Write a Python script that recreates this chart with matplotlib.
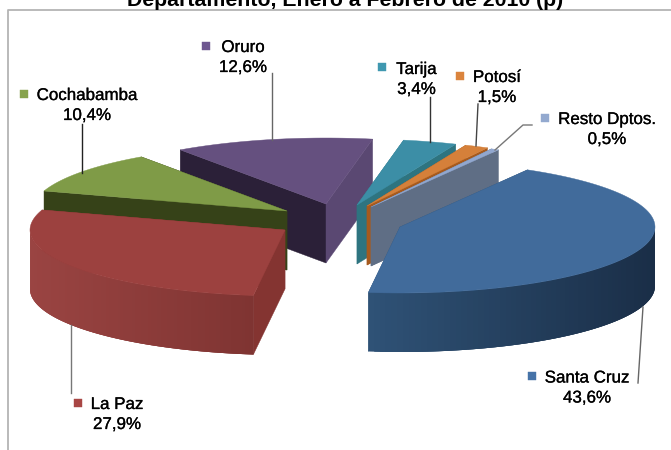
import numpy as np
import matplotlib
matplotlib.use("Agg")
import matplotlib.pyplot as plt
import matplotlib.patheffects as pe
from matplotlib.patches import Polygon
from matplotlib.colors import to_rgb

# ---- data ----
categories = ["Santa Cruz", "La Paz", "Cochabamba", "Oruro", "Tarija", "Potosí", "Resto Dptos."]
values = [43.6, 27.9, 10.4, 12.6, 3.4, 1.5, 0.5]
value_labels = ["43,6%", "27,9%", "10,4%", "12,6%", "3,4%", "1,5%", "0,5%"]
title = "Departamento, Enero a Febrero de 2010 (p)"

# ---- style ----
top_colors = ["#416b9b", "#9c413f", "#7f9b47", "#65507f", "#3c8ea6", "#d5803a", "#91a7cf"]
marker_colors = ["#4673a8", "#a84644", "#87a34d", "#6e5790", "#3f98b0", "#db843d", "#93a9cf"]
first_face = ["#2f5276", "#843431", "#364218", "#2b2038", "#2e7480", "#a65a1e", "#5f6e85"]
last_face = ["#2f5276", "#843431", "#364218", "#5a4872", "#2e7480", "#a65a1e", "#5f6e85"]
wall_left = ["#2f5276", "#9a4442", "#364218", "#2b2038", "#2e7480", "#a65a1e", "#5f6e85"]
wall_right = ["#1a2e47", "#7f3432", "#364218", "#2b2038", "#2e7480", "#a65a1e", "#5f6e85"]
centres = [(400, 227), (285, 230), (287, 211), (326, 204), (357, 205), (367, 206), (371, 207)]
label_xy = [(587, 392.5), (117, 419), (87, 110), (243, 62), (416.5, 84), (497, 92), (607, 134)]
marker_xy = [(532, 376), (78, 403), (24, 94), (206, 46), (382, 67), (460, 76), (545, 118)]
leaders = [[(643, 307), (638, 383)], [(70.5, 325), (70.5, 393)], [(82, 124), (82, 173)],
           [(272, 73), (272, 140)], [(430, 97), (430, 142)], [(478, 104), (476, 146)],
           [(532, 125), (523, 125), (495, 150)]]
leader_colors = ["#666666", "#777777", "#222222", "#666666", "#333333", "#444444", "#777777"]
draw_order = [3, 2, 1, 4, 5, 6, 0]
RX, RY, DEPTH = 255, 66, 59
START_ANGLE = 60.0
FONT = "Liberation Sans"
HEAVY = [pe.withStroke(linewidth=0.2, foreground="black")]

fig = plt.figure(figsize=(6.71, 4.5), dpi=100)
ax = fig.add_axes([0, 0, 1, 1])
ax.set_xlim(0, 671)
ax.set_ylim(450, 0)
ax.axis("off")

# frame
ax.plot([8, 8, 671], [450, 10, 10], color="#b4b4b4", lw=1.3, zorder=1)

fractions = np.array(values) / np.sum(values)
ends = START_ANGLE - np.cumsum(fractions) * 360
starts = np.r_[START_ANGLE, ends[:-1]]
z = 2


def rim(cx, cy, t):
    r = np.deg2rad(t)
    return cx + RX * np.cos(r), cy - RY * np.sin(r)


for i in draw_order:
    cx, cy = centres[i]
    ta, tb = starts[i], ends[i]
    # flat cut faces
    for t, col in ((ta, first_face[i]), (tb, last_face[i])):
        x, y = rim(cx, cy, t)
        ax.add_patch(Polygon([(cx, cy), (x, y), (x, y + DEPTH), (cx, cy + DEPTH)],
                             fc=col, ec=col, lw=0.3, zorder=z))
    z += 1
    # curved outer wall, only the part that faces the viewer
    ts = np.linspace(ta, tb, 120)
    xs, ys = rim(cx, cy, ts)
    front = np.sin(np.deg2rad(ts)) <= 0.0
    c0, c1 = np.array(to_rgb(wall_left[i])), np.array(to_rgb(wall_right[i]))
    if front.sum() > 1:
        fx, fy = xs[front], ys[front]
        lo, hi = fx.min(), fx.max()
        order = np.argsort(fx)
        fx, fy = fx[order], fy[order]
        n = len(fx)
        for k in range(n - 1):
            e = min(k + 3, n - 1)  # overlap the bands so no seams show
            f = ((fx[k] + fx[k + 1]) / 2 - lo) / max(hi - lo, 1)
            col = c0 + (c1 - c0) * f
            sx, sy = fx[k:e + 1], fy[k:e + 1]
            ax.add_patch(Polygon(np.r_[np.c_[sx, sy], np.c_[sx[::-1], sy[::-1] + DEPTH]],
                                 fc=col, ec="none", lw=0, zorder=z))
            z += 0.001
    z = np.floor(z) + 1
    # top face
    ax.add_patch(Polygon(np.r_[[(cx, cy)], np.c_[xs, ys]], fc=top_colors[i], ec=top_colors[i],
                         lw=0.3, zorder=z))
    z += 1

for i, cat in enumerate(categories):
    ax.plot(*zip(*leaders[i]), color=leader_colors[i], lw=1.0, zorder=z)
    x, y = label_xy[i]
    for txt, dy in ((cat, -10), (value_labels[i], 10)):
        ax.text(x, y + dy, txt, ha="center", va="baseline", fontsize=12.2, family=FONT, color="black",
                zorder=z + 1, path_effects=HEAVY)
    ax.plot(*marker_xy[i], marker="s", ms=6.3, mfc=marker_colors[i], mec=marker_colors[i], mew=0.3,
            ls="none", zorder=z + 1)

ax.text(345, 5.5, title, ha="center", va="baseline", fontsize=15.3, fontweight="bold", family=FONT,
        color="black", zorder=z + 1)

fig.savefig("out.png", dpi=100)
